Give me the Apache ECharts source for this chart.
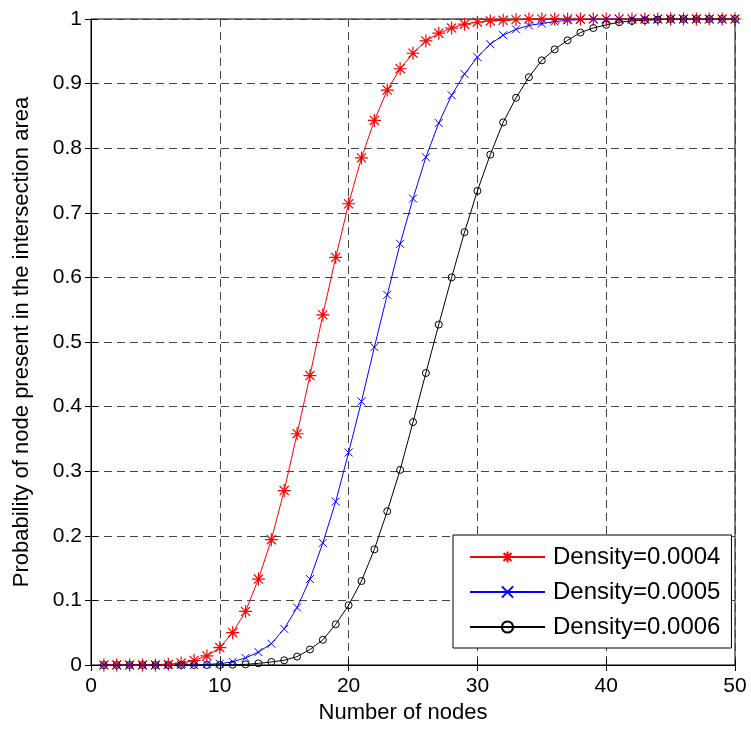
<!DOCTYPE html>
<html>
<head>
<meta charset="utf-8" />
<script src="https://cdn.jsdelivr.net/npm/echarts@6/dist/echarts.min.js"></script>
<title>intersection area</title>
<style>
  body { margin: 0; background: #fff; }
  #main { width: 751px; height: 730px; }
</style>
</head>
<body>
<div id="main"></div>
<script>
// number of nodes
var nodes = [1,2,3,4,5,6,7,8,9,10,11,12,13,14,15,16,17,18,19,20,21,22,23,24,25,
             26,27,28,29,30,31,32,33,34,35,36,37,38,39,40,41,42,43,44,45,46,47,48,49,50];

// Density=0.0004
var d0004 = [0,0,0,0,0,0.001,0.003,0.007,0.014,0.027,0.05,0.083,0.133,0.194,0.27,
             0.358,0.448,0.542,0.631,0.714,0.785,0.843,0.89,0.923,0.947,0.966,0.978,0.986,0.992,0.995,
             0.997,0.998,0.999,1,1,1,1,1,1,1,1,1,1,1,1,1,1,1,1,1];
// Density=0.0005
var d0005 = [0,0,0,0,0,0,0,0,0.001,0.002,0.005,0.011,0.02,0.033,0.056,
             0.089,0.133,0.189,0.253,0.329,0.408,0.492,0.573,0.652,0.722,0.786,0.839,0.882,0.915,0.941,
             0.961,0.975,0.984,0.99,0.993,0.996,0.998,0.999,1,1,1,1,1,1,1,1,1,1,1,1];
// Density=0.0006
var d0006 = [0,0,0,0,0,0,0,0,0,0,0.0005,0.001,0.0026,0.0047,0.0073,
             0.013,0.024,0.039,0.063,0.0925,0.13,0.179,0.238,0.302,0.376,0.452,0.527,0.6,0.67,0.734,
             0.79,0.84,0.878,0.91,0.936,0.953,0.967,0.979,0.986,0.991,0.995,0.997,0.998,0.999,1,1,1,1,1,1];

var names = ['Density=0.0004', 'Density=0.0005', 'Density=0.0006'];

function pairs(ys) {
    return nodes.map(function (x, i) { return [x, ys[i]]; });
}

var star = 'path://M0,5L10,5M5,0L5,10M1.5,1.5L8.5,8.5M1.5,8.5L8.5,1.5';
var cross = 'path://M0,0L10,10M0,10L10,0';
var font = 'Liberation Sans';

const myChart = echarts.init(document.getElementById('main'));

var gridLine = { show: true, lineStyle: { color: '#444', type: [8, 5], width: 1 } };

option = {
    backgroundColor: '#fff',
    animation: false,
    textStyle: { fontFamily: font, color: '#000' },
    grid: { left: 91, right: 16, top: 19, bottom: 65, show: true, borderColor: '#000', borderWidth: 1 },
    legend: {
        orient: 'vertical',
        left: 453, top: 535,
        padding: [10, 11, 9, 16],
        itemWidth: 75, itemHeight: 14, itemGap: 11,
        backgroundColor: '#fff', borderColor: '#000', borderWidth: 1,
        textStyle: { fontFamily: font, fontSize: 24, lineHeight: 24, color: '#000', padding: [0, 0, 0, 3] },
        data: names
    },
    xAxis: [
        {
            type: 'value', min: 0, max: 50, interval: 10,
            name: 'Number of nodes', nameLocation: 'middle', nameGap: 34,
            nameTextStyle: { fontFamily: font, fontSize: 22, color: '#000', padding: [0, 20, 0, 0] },
            axisLine: { show: true, onZero: false, lineStyle: { color: '#000' } },
            axisTick: { show: true, inside: true, length: 6, lineStyle: { color: '#000' } },
            axisLabel: { fontFamily: font, fontSize: 21, color: '#000', margin: 11 },
            splitLine: gridLine
        },
        {
            type: 'value', min: 0, max: 50, interval: 10, position: 'top',
            axisLine: { show: false },
            axisTick: { show: true, inside: true, length: 6, lineStyle: { color: '#000' } },
            axisLabel: { show: false }, splitLine: { show: false }
        }
    ],
    yAxis: [
        {
            type: 'value', min: 0, max: 1, interval: 0.1,
            name: 'Probability of node present in the intersection area',
            nameLocation: 'middle', nameGap: 58,
            nameTextStyle: { fontFamily: font, fontSize: 22, color: '#000' },
            axisLine: { show: true, onZero: false, lineStyle: { color: '#000' } },
            axisTick: { show: true, inside: true, length: 6, lineStyle: { color: '#000' } },
            axisLabel: { fontFamily: font, fontSize: 21, color: '#000', margin: 9 },
            splitLine: gridLine
        },
        {
            type: 'value', min: 0, max: 1, interval: 0.1, position: 'right',
            axisLine: { show: false },
            axisTick: { show: true, inside: true, length: 6, lineStyle: { color: '#000' } },
            axisLabel: { show: false }, splitLine: { show: false }
        }
    ],
    series: [
        {
            name: names[0], type: 'line', data: pairs(d0004),
            symbol: star, symbolSize: 13,
            lineStyle: { color: '#ff0000', width: 1 },
            itemStyle: { color: 'transparent', borderColor: '#ff0000', borderWidth: 1.2 }
        },
        {
            name: names[1], type: 'line', data: pairs(d0005),
            symbol: cross, symbolSize: 8,
            lineStyle: { color: '#0000ff', width: 1 },
            itemStyle: { color: 'transparent', borderColor: '#0000ff', borderWidth: 1 }
        },
        {
            name: names[2], type: 'line', data: pairs(d0006),
            symbol: 'circle', symbolSize: 7,
            lineStyle: { color: '#000000', width: 1 },
            itemStyle: { color: 'transparent', borderColor: '#000000', borderWidth: 1 }
        }
    ]
};
myChart.setOption(option);
</script>
</body>
</html>
